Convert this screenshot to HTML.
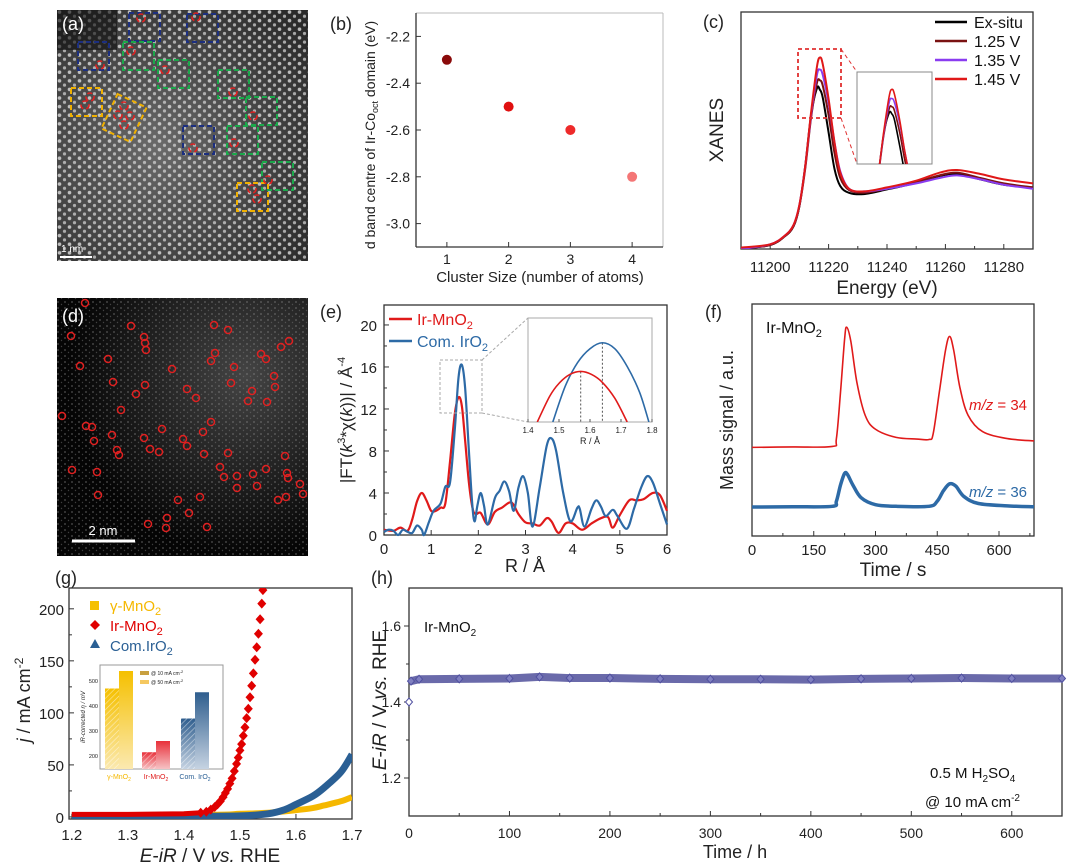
<!DOCTYPE html>
<html><head><meta charset="utf-8"><style>
html,body{margin:0;padding:0;background:#fff;}
svg{display:block;font-family:"Liberation Sans",Arial,sans-serif;}
</style></head><body>
<svg id="fig" width="1080" height="868" viewBox="0 0 1080 868" xmlns="http://www.w3.org/2000/svg">
<defs>
<pattern id="lat" x="57" y="10" width="10" height="8.6" patternUnits="userSpaceOnUse">
<circle cx="2.5" cy="2" r="1.8" fill="#e8e8e8"/><circle cx="7.5" cy="6.3" r="1.6" fill="#d0d0d0"/>
</pattern>
<pattern id="noise" x="0" y="0" width="7" height="6" patternUnits="userSpaceOnUse">
<circle cx="2" cy="2" r="0.9" fill="#9a9a9a"/><circle cx="5.5" cy="4.5" r="0.7" fill="#777"/>
</pattern>
<radialGradient id="glowD" cx="0.75" cy="0.3" r="0.7"><stop offset="0" stop-color="#444" stop-opacity="1"/><stop offset="1" stop-color="#050505" stop-opacity="1"/></radialGradient>
<radialGradient id="glowA" cx="0.4" cy="0.55" r="0.75"><stop offset="0" stop-color="#6a6a6a"/><stop offset="1" stop-color="#2a2a2a"/></radialGradient>
<linearGradient id="gy" x1="0" y1="0" x2="0" y2="1"><stop offset="0" stop-color="#f5c000"/><stop offset="1" stop-color="#fbe9b0"/></linearGradient>
<linearGradient id="gr" x1="0" y1="0" x2="0" y2="1"><stop offset="0" stop-color="#e8303a"/><stop offset="1" stop-color="#f6c2c4"/></linearGradient>
<linearGradient id="gb" x1="0" y1="0" x2="0" y2="1"><stop offset="0" stop-color="#2f5e8e"/><stop offset="1" stop-color="#c6d3e2"/></linearGradient>
<pattern id="hatch" width="4" height="4" patternUnits="userSpaceOnUse" patternTransform="rotate(45)"><line x1="0" y1="0" x2="0" y2="4" stroke="#fff" stroke-width="1.2" stroke-opacity="0.6"/></pattern>
<clipPath id="clipC"><rect x="741" y="12" width="292" height="237"/></clipPath>
<clipPath id="clipCi"><rect x="857" y="72" width="75" height="92"/></clipPath>
<clipPath id="clipEi"><rect x="528" y="318" width="124" height="104"/></clipPath>
<clipPath id="clipG"><rect x="69" y="588" width="283" height="231"/></clipPath>
</defs>

<g>
<rect x="57" y="10" width="251" height="251" fill="url(#glowA)"/>
<rect x="57" y="10" width="251" height="251" fill="url(#lat)" opacity="0.75"/>
<rect x="57" y="10" width="60" height="40" fill="#111" opacity="0.6"/>
<text x="62" y="30" font-size="18" fill="#fff">(a)</text>
<line x1="60" y1="257" x2="92" y2="257" stroke="#fff" stroke-width="2"/>
<text x="61" y="252" font-size="10" fill="#fff">1 nm</text>
<g id="aboxes" fill="none" stroke-width="2" stroke-dasharray="5,3"></g>
</g>

<g>
<rect x="57" y="298" width="251" height="258" fill="url(#glowD)"/>
<rect x="57" y="298" width="251" height="258" fill="url(#noise)" opacity="0.5"/>
<text x="62" y="322" font-size="18" fill="#fff">(d)</text>
<line x1="72" y1="541" x2="135" y2="541" stroke="#fff" stroke-width="3"/>
<text x="103" y="535" font-size="13" fill="#fff" text-anchor="middle">2 nm</text>
<g id="dcircles" fill="none" stroke="#e02020" stroke-width="1.5"></g>
</g>

<g id="plots"></g>
</svg>
<script>
// ===== data =====
// (b)
const bClusters=[1,2,3,4];
const bDband=[-2.3,-2.5,-2.6,-2.8];
const bColors=['#8a0a0a','#e01010','#ee2a2a','#f47676'];
const bYTicks=[-2.2,-2.4,-2.6,-2.8,-3.0];
const bXTicks=[1,2,3,4];
// (c)
const cEnergy=[11190,11200,11205,11208,11210,11212,11214,11216,11217,11218,11220,11222,11224,11227,11232,11240,11250,11258,11264,11272,11280,11290];
const cExsitu=[0,0.03,0.095,0.17,0.32,0.62,1.0,1.2,1.19,1.13,0.87,0.6,0.47,0.42,0.41,0.445,0.495,0.545,0.56,0.52,0.48,0.46];
const c125=[0,0.03,0.095,0.17,0.32,0.6,0.98,1.24,1.26,1.22,1.0,0.72,0.53,0.44,0.42,0.45,0.5,0.55,0.57,0.53,0.49,0.46];
const c135=[0,0.035,0.1,0.18,0.33,0.62,1.0,1.3,1.34,1.3,1.09,0.8,0.58,0.45,0.43,0.45,0.49,0.53,0.55,0.52,0.48,0.45];
const c145=[0.01,0.035,0.1,0.18,0.33,0.62,1.02,1.36,1.43,1.38,1.12,0.8,0.57,0.45,0.43,0.46,0.51,0.57,0.59,0.56,0.52,0.49];
const cXTicks=[11200,11220,11240,11260,11280];
const cNames=['Ex-situ','1.25 V','1.35 V','1.45 V'];
const cCols=['#000000','#7a1212','#8a3cf0','#e01818'];
// (e)
const eRblue=[0,0.1,0.2,0.3,0.4,0.5,0.6,0.7,0.8,0.85,0.95,1.05,1.2,1.3,1.4,1.5,1.58,1.65,1.72,1.8,1.87,1.92,1.98,2.05,2.12,2.2,2.35,2.45,2.55,2.65,2.75,2.85,2.95,3.05,3.15,3.3,3.45,3.55,3.65,3.8,3.95,4.1,4.15,4.25,4.4,4.5,4.6,4.7,4.85,4.95,5.15,5.3,5.45,5.58,5.7,5.85,6];
const eBlue=[0.3,0.5,0.4,0,0.5,0.3,0.2,0.9,0.5,0,1.2,2.3,3,4.6,5,10,15,16.2,14,8,3,1.3,2.8,4,2.8,1,3.5,4.2,5.1,4.2,2.3,4.5,5.6,4,0.8,4.5,8.5,9.2,8,4,1.3,2.6,2.5,0.8,2.5,3.3,2.7,1.8,2.4,1.8,0.6,2.5,4.5,5.6,5,3,1];
const eRred=[0,0.2,0.35,0.5,0.6,0.7,0.8,0.9,1.0,1.1,1.2,1.3,1.4,1.5,1.58,1.65,1.72,1.8,1.88,1.95,2.05,2.2,2.35,2.5,2.7,2.85,3.0,3.15,3.3,3.45,3.55,3.7,3.85,4.0,4.2,4.4,4.6,4.75,4.85,5.0,5.2,5.35,5.5,5.7,5.85,6];
const eRed=[0.5,0.4,0.7,0.4,1.5,3.2,4,3.3,2.3,2.3,2.6,3,7,11.5,13.1,12.3,9,5,2.5,2,2.1,1,2.2,2.6,3.1,2,1.2,1.1,0.9,1.6,1.3,0.2,1.1,1.1,0.5,1.1,1.6,1.7,0.7,1.9,3.3,3.3,3.4,4,3.8,2.3];
const eYTicks=[0,4,8,12,16,20];
const eXTicks=[0,1,2,3,4,5,6];
const eiRblue=[1.48,1.52,1.56,1.6,1.64,1.68,1.72,1.76,1.79];
const eiBlue=[0,3.6,6.0,7.4,8,7.4,5.6,3.0,0];
const eiRred=[1.43,1.47,1.5,1.535,1.57,1.605,1.64,1.68,1.72];
const eiRedV=[0,2.6,3.9,4.8,5.1,4.8,4.0,2.4,0];
const eiXTicks=[1.4,1.5,1.6,1.7,1.8];
// (f)
const fTime=[0,100,195,205,215,225,230,240,255,275,300,350,400,430,440,455,470,480,490,505,525,560,620,685];
const fO34=[38.2,38.4,38.6,42,62,85,90,84,66,52,46,42.5,41.8,41.6,44,62,80,86,80,64,52,45,42,41];
const fTime36=[0,100,195,205,215,225,232,245,265,300,350,430,450,465,480,495,515,550,620,685];
const fO36=[12.5,12.6,12.8,15,22,27,26.5,22,16.5,13.5,12.8,12.8,15,19.5,22.5,21.5,17,14,13,12.6];
const fXTicks=[0,150,300,450,600];
// (g)
const gVir=[1.2,1.3,1.4,1.43,1.44,1.448,1.455,1.46,1.465,1.47,1.474,1.478,1.482,1.486,1.49,1.494,1.497,1.5,1.503,1.506,1.509,1.512,1.515,1.518,1.521,1.524,1.527,1.53,1.533,1.536,1.539,1.541];
const gJir=[2.5,2.5,3,4,5,7,9.5,12,15,19,23,27,32,37,44,51,57,64,70,78,86,95,104,115,126,138,151,163,176,190,205,218];
const gVblue=[1.2,1.4,1.5,1.55,1.58,1.6,1.63,1.65,1.68,1.7];
const gJblue=[0.5,0.6,1,3,7,12,20,28,43,60];
const gVy=[1.2,1.45,1.5,1.55,1.6,1.63,1.65,1.68,1.7];
const gJy=[1.5,2,3,4,6.5,8.5,11,15,19];
const gXTicks=[1.2,1.3,1.4,1.5,1.6,1.7];
const gYTicks=[0,50,100,150,200];
const gBarCats=['γ-MnO2','Ir-MnO2','Com. IrO2'];
const gBar10=[470,215,350];
const gBar50=[540,260,455];
const gInYTicks=[200,300,400,500];
// (h)
const hTime=[0,2,10,50,100,130,160,200,250,300,350,400,450,500,550,600,650];
const hPot=[1.40,1.455,1.46,1.461,1.462,1.466,1.463,1.463,1.461,1.460,1.460,1.459,1.461,1.462,1.463,1.462,1.462];
const hXTicks=[0,100,200,300,400,500,600];
const hYTicks=[1.2,1.4,1.6];

// ===== helpers =====
const NS='http://www.w3.org/2000/svg';
const root=document.getElementById('plots');
function mk(tag,attrs,parent){const e=document.createElementNS(NS,tag);for(const k in attrs)e.setAttribute(k,attrs[k]);(parent||root).appendChild(e);return e;}
function lin(d0,d1,r0,r1){return v=>r0+(v-d0)/(d1-d0)*(r1-r0);}
function txt(x,y,s,size,parent,extra){const t=mk('text',Object.assign({x:x,y:y,'font-size':size,fill:'#222'},extra||{}),parent);t.innerHTML=s;return t;}
function smoothPath(pts){let d='M'+pts[0][0]+','+pts[0][1];for(let i=0;i<pts.length-1;i++){const p0=pts[i-1]||pts[i],p1=pts[i],p2=pts[i+1],p3=pts[i+2]||p2;const c1x=p1[0]+(p2[0]-p0[0])/6,c1y=p1[1]+(p2[1]-p0[1])/6,c2x=p2[0]-(p3[0]-p1[0])/6,c2y=p2[1]-(p3[1]-p1[1])/6;d+=' C'+c1x+','+c1y+' '+c2x+','+c2y+' '+p2[0]+','+p2[1];}return d;}
function frame(x0,y0,x1,y1,g){mk('rect',{x:x0,y:y0,width:x1-x0,height:y1-y0,fill:'none',stroke:'#333','stroke-width':1.3},g);}

// ===== (a) boxes & (d) circles =====
const ab=document.getElementById('aboxes');
[[129,13,'#1c2f80'],[187,14,'#1c2f80'],[78,42,'#1c2f80'],[183,126,'#1c2f80'],[123,42,'#1aa84a'],[158,60,'#1aa84a'],[218,70,'#1aa84a'],[246,97,'#1aa84a'],[227,126,'#1aa84a'],[262,162,'#1aa84a'],[71,88,'#f0b000'],[237,183,'#f0b000']].forEach(b=>{mk('rect',{x:b[0],y:b[1],width:31,height:28,stroke:b[2]},ab);});
mk('rect',{x:108,y:99,width:32,height:38,stroke:'#f0b000',transform:'rotate(25 124 118)'},ab);
[[141,18],[196,17],[100,65],[131,51],[165,70],[233,92],[253,116],[193,148],[234,143],[268,180],[90,97],[85,105],[124,106],[118,115],[130,116],[124,125],[252,189],[257,199]].forEach(c=>{mk('circle',{cx:c[0],cy:c[1],r:4,stroke:'#e02020','stroke-width':1.6},ab);});
const dc=document.getElementById('dcircles');
[[85,303],[71,336],[131,326],[144,337],[145,343],[80,366],[108,359],[146,350],[113,382],[136,394],[145,385],[172,369],[187,389],[196,398],[214,325],[215,353],[211,361],[228,330],[231,383],[234,367],[261,354],[266,359],[281,347],[289,341],[274,376],[275,387],[267,402],[248,401],[252,391],[86,426],[92,427],[94,441],[121,410],[112,435],[117,450],[119,455],[144,438],[150,449],[162,429],[159,452],[183,439],[187,446],[203,432],[211,422],[204,454],[220,467],[224,477],[228,453],[237,476],[253,474],[257,486],[266,469],[285,456],[288,478],[287,473],[237,488],[278,500],[286,497],[303,494],[300,484],[178,500],[200,497],[167,518],[166,528],[189,513],[207,527],[148,524],[97,472],[62,416],[72,470],[98,495]].forEach(c=>{mk('circle',{cx:c[0],cy:c[1],r:3.5},dc);});

// ===== (b) =====
(function(){const g=mk('g',{});
const X=lin(0.5,4.5,416,663),Y=lin(-3.1,-2.1,247,13);
txt(330,30,'(b)',18,g);
mk('line',{x1:416,y1:13,x2:663,y2:13,stroke:'#bbb'},g);mk('line',{x1:663,y1:13,x2:663,y2:247,stroke:'#bbb'},g);
mk('line',{x1:416,y1:13,x2:416,y2:247,stroke:'#333','stroke-width':1.3},g);mk('line',{x1:416,y1:247,x2:663,y2:247,stroke:'#333','stroke-width':1.3},g);
bYTicks.forEach(v=>{mk('line',{x1:416,y1:Y(v),x2:421,y2:Y(v),stroke:'#333'},g);txt(410,Y(v)+5,v.toFixed(1),14,g,{'text-anchor':'end'});});
bXTicks.forEach(v=>{mk('line',{x1:X(v),y1:247,x2:X(v),y2:242,stroke:'#333'},g);txt(X(v),264,String(v),14,g,{'text-anchor':'middle'});});
const yt=txt(0,0,'d band centre of Ir-Co<tspan font-size="9" dy="3">oct</tspan><tspan dy="-3"> domain (eV)</tspan>',14,g,{'text-anchor':'middle',transform:'translate(375,135) rotate(-90)'});

const xt=txt(540,282,'Cluster Size (number of atoms)',15,g,{'text-anchor':'middle'});

bClusters.forEach((c,i)=>{const p=mk('circle',{cx:X(c),cy:Y(bDband[i]),r:5,fill:bColors[i]},g);

});
})();

// ===== (c) =====
(function(){const g=mk('g',{});
const X=lin(11190,11290,741,1033),Y=lin(0,1.77,249,12);
txt(703,28,'(c)',18,g);
frame(741,12,1033,249,g);
cXTicks.forEach(v=>{mk('line',{x1:X(v),y1:249,x2:X(v),y2:244,stroke:'#333'},g);txt(X(v),272,String(v),15,g,{'text-anchor':'middle'});});
[11210,11230,11250,11270].forEach(v=>mk('line',{x1:X(v),y1:249,x2:X(v),y2:246,stroke:'#333'},g));
txt(0,0,'XANES',19,g,{'text-anchor':'middle',transform:'translate(723,130) rotate(-90)',});
txt(887,294,'Energy (eV)',19,g,{'text-anchor':'middle',});
const cg=mk('g',{'clip-path':'url(#clipC)'},g);
[cExsitu,c125,c135,c145].forEach((s,k)=>{const p=mk('path',{d:smoothPath(cEnergy.map((e,i)=>[X(e),Y(s[i])])),fill:'none',stroke:cCols[k],'stroke-width':2},cg);

});
mk('rect',{x:798,y:49,width:43,height:69,fill:'none',stroke:'#e03030','stroke-width':1.8,'stroke-dasharray':'4,3'},g);
mk('line',{x1:841,y1:49,x2:857,y2:72,stroke:'#e03030','stroke-dasharray':'4,3'},g);
mk('line',{x1:841,y1:118,x2:857,y2:164,stroke:'#e03030','stroke-dasharray':'4,3'},g);
mk('rect',{x:857,y:72,width:75,height:92,fill:'#fff',stroke:'#888'},g);
const XI=lin(11204,11232,857,932),YI=lin(0.7,1.6,164,72);
const ig=mk('g',{'clip-path':'url(#clipCi)'},g);
[cExsitu,c125,c135,c145].forEach((s,k)=>{const p=mk('path',{d:smoothPath(cEnergy.map((e,i)=>[XI(e),YI(s[i])])),fill:'none',stroke:cCols[k],'stroke-width':1.6},ig);

});
cNames.forEach((n,i)=>{const y=22+i*19;const le=mk('g',{},g);


mk('line',{x1:935,y1:y,x2:967,y2:y,stroke:cCols[i],'stroke-width':2.5},le);txt(974,y+6,n,16,le,{fill:'#111'});});
})();

// ===== (e) =====
(function(){const g=mk('g',{});
const X=lin(0,6,384,667),Y=lin(0,21.9,535,305);
txt(320,318,'(e)',18,g);
frame(384,305,667,535,g);
eYTicks.forEach(v=>{mk('line',{x1:384,y1:Y(v),x2:389,y2:Y(v),stroke:'#333'},g);txt(377,Y(v)+6,String(v),15,g,{'text-anchor':'end'});});
[2,6,10,14,18].forEach(v=>mk('line',{x1:384,y1:Y(v),x2:387,y2:Y(v),stroke:'#333'},g));
eXTicks.forEach(v=>{mk('line',{x1:X(v),y1:535,x2:X(v),y2:530,stroke:'#333'},g);txt(X(v),554,String(v),15,g,{'text-anchor':'middle'});});
txt(0,0,'|FT(<tspan font-style="italic">k</tspan><tspan font-size="11" dy="-7">3</tspan><tspan dy="7">*χ(</tspan><tspan font-style="italic">k</tspan>))| / Å<tspan font-size="11" dy="-7">-4</tspan>',17,g,{'text-anchor':'middle',transform:'translate(352,420) rotate(-90)',});
txt(525,572,'R / Å',18,g,{'text-anchor':'middle',});
const r=mk('path',{d:smoothPath(eRred.map((q,i)=>[X(q),Y(eRed[i])])),fill:'none',stroke:'#e01a1a','stroke-width':2.2},g);

const b=mk('path',{d:smoothPath(eRblue.map((r,i)=>[X(r),Y(eBlue[i])])),fill:'none',stroke:'#2d6aa6','stroke-width':2.2},g);

mk('line',{x1:389,y1:319,x2:412,y2:319,stroke:'#e01a1a','stroke-width':2.5},g);txt(417,325,'Ir-MnO<tspan font-size="11" dy="4">2</tspan>',16,g,{fill:'#e01a1a'});
mk('line',{x1:389,y1:341,x2:412,y2:341,stroke:'#2d6aa6','stroke-width':2.5},g);txt(417,347,'Com. IrO<tspan font-size="11" dy="4">2</tspan>',16,g,{fill:'#2d6aa6'});
mk('rect',{x:440,y:360,width:42,height:53,fill:'none',stroke:'#aaa','stroke-dasharray':'3,2'},g);
mk('line',{x1:482,y1:360,x2:528,y2:318,stroke:'#aaa','stroke-dasharray':'3,2'},g);
mk('line',{x1:482,y1:413,x2:528,y2:422,stroke:'#aaa','stroke-dasharray':'3,2'},g);
mk('rect',{x:528,y:318,width:124,height:104,fill:'#fff',stroke:'#aaa'},g);
const XI=lin(1.4,1.8,528,652),YI=lin(0,10.5,422,318);
eiXTicks.forEach(v=>{txt(XI(v),433,v.toFixed(1),8,g,{'text-anchor':'middle'});mk('line',{x1:XI(v),y1:422,x2:XI(v),y2:419,stroke:'#555'},g);});
txt(590,444,'R / Å',9,g,{'text-anchor':'middle'});
const ig=mk('g',{'clip-path':'url(#clipEi)'},g);
mk('line',{x1:XI(1.57),y1:YI(5.1),x2:XI(1.57),y2:422,stroke:'#555','stroke-dasharray':'2,2'},ig);
mk('line',{x1:XI(1.64),y1:YI(8),x2:XI(1.64),y2:422,stroke:'#555','stroke-dasharray':'2,2'},ig);
mk('path',{d:smoothPath(eiRblue.map((q,i)=>[XI(q),YI(eiBlue[i])])),fill:'none',stroke:'#2d6aa6','stroke-width':1.6},ig);
mk('path',{d:smoothPath(eiRred.map((q,i)=>[XI(q),YI(eiRedV[i])])),fill:'none',stroke:'#e01a1a','stroke-width':1.6},ig);
})();

// ===== (f) =====
(function(){const g=mk('g',{});
const X=lin(0,685,752,1034),Y=lin(0,100,536,304);
txt(705,318,'(f)',18,g);
frame(752,304,1034,536,g);
fXTicks.forEach(v=>{mk('line',{x1:X(v),y1:536,x2:X(v),y2:531,stroke:'#333'},g);txt(X(v),555,String(v),15,g,{'text-anchor':'middle'});});
[75,225,375,525,675].forEach(v=>mk('line',{x1:X(v),y1:536,x2:X(v),y2:533,stroke:'#333'},g));
txt(0,0,'Mass signal / a.u.',18,g,{'text-anchor':'middle',transform:'translate(733,420) rotate(-90)',});
txt(893,576,'Time / s',19,g,{'text-anchor':'middle',});
txt(766,333,'Ir-MnO<tspan font-size="11" dy="4">2</tspan>',16,g,{fill:'#111'});
const r=mk('path',{d:smoothPath(fTime.map((t,i)=>[X(t),Y(fO34[i])])),fill:'none',stroke:'#e01a1a','stroke-width':1.6},g);

const b=mk('path',{d:smoothPath(fTime36.map((t,i)=>[X(t),Y(fO36[i])])),fill:'none',stroke:'#2d6aa6','stroke-width':3.5},g);

txt(1027,410,'<tspan font-style="italic">m/z</tspan> = 34',15,g,{fill:'#e01a1a','text-anchor':'end'});
txt(1027,497,'<tspan font-style="italic">m/z</tspan> = 36',15,g,{fill:'#2d6aa6','text-anchor':'end'});
})();

// ===== (g) =====
(function(){const g=mk('g',{});
const X=lin(1.195,1.7,69,352),Y=lin(-2,220,819,588);
txt(55,584,'(g)',18,g);
frame(69,588,352,819,g);
gXTicks.forEach(v=>{mk('line',{x1:X(v),y1:819,x2:X(v),y2:814,stroke:'#333'},g);txt(X(v),840,v.toFixed(1),15,g,{'text-anchor':'middle'});});
gYTicks.forEach(v=>{mk('line',{x1:69,y1:Y(v),x2:74,y2:Y(v),stroke:'#333'},g);txt(64,Y(v)+6,String(v),15,g,{'text-anchor':'end'});});
[25,75,125,175].forEach(v=>mk('line',{x1:69,y1:Y(v),x2:72,y2:Y(v),stroke:'#333'},g));
txt(0,0,'<tspan font-style="italic">j</tspan> / mA cm<tspan font-size="12" dy="-7">-2</tspan>',18,g,{'text-anchor':'middle',transform:'translate(30,700) rotate(-90)',});
txt(210,862,'<tspan font-style="italic">E</tspan>-<tspan font-style="italic">iR</tspan> / V <tspan font-style="italic">vs.</tspan> RHE',19,g,{'text-anchor':'middle',});
const cg=mk('g',{'clip-path':'url(#clipG)'},g);
const ly=mk('path',{d:smoothPath(gVy.map((v,i)=>[X(v),Y(gJy[i])])),fill:'none',stroke:'#f5b800','stroke-width':6},cg);

const lb=mk('path',{d:smoothPath(gVblue.map((v,i)=>[X(v),Y(gJblue[i])])),fill:'none',stroke:'#2a5f94','stroke-width':7},cg);

mk('polyline',{points:gVir.slice(0,4).map((v,i)=>X(v)+','+Y(gJir[i])).join(' '),fill:'none',stroke:'#e00000','stroke-width':5},cg);
gVir.slice(3).forEach((v,j)=>{const i=j+3;const x=X(v),y=Y(gJir[i]);const d=mk('path',{d:`M${x},${y-5}L${x+4.5},${y}L${x},${y+5}L${x-4.5},${y}Z`,fill:'#e00000'},cg);

});
mk('rect',{x:90,y:601,width:9,height:9,fill:'#f5c000'},g);txt(110,611,'γ-MnO<tspan font-size="11" dy="4">2</tspan>',15,g,{fill:'#f5b800'});
mk('path',{d:'M95,620 l5,5 l-5,5 l-5,-5Z',fill:'#e00000'},g);txt(110,631,'Ir-MnO<tspan font-size="11" dy="4">2</tspan>',15,g,{fill:'#e00000'});
mk('path',{d:'M95,639 l5,9 l-10,0Z',fill:'#2a5f94'},g);txt(110,651,'Com.IrO<tspan font-size="11" dy="4">2</tspan>',15,g,{fill:'#2a5f94'});
const ig=mk('g',{},g);
mk('rect',{x:100,y:665,width:123,height:104,fill:'#fff',stroke:'#999'},ig);
const YI=lin(148,564,769,665);
gInYTicks.forEach(v=>{txt(98,YI(v)+2,String(v),5.5,ig,{'text-anchor':'end'});});
txt(0,0,'iR-corrected η / mV',6,ig,{'text-anchor':'middle',transform:'translate(85,717) rotate(-90)','font-style':'italic'});
const grads=['url(#gy)','url(#gr)','url(#gb)'];const cols=['#f5b800','#e01a1a','#2a5f94'];
const bx=[105,142,181],bw=14;
gBarCats.forEach((c,i)=>{
const r1=mk('rect',{x:bx[i],y:YI(gBar10[i]),width:bw,height:769-YI(gBar10[i]),fill:grads[i]},ig);

mk('rect',{x:bx[i],y:YI(gBar10[i]),width:bw,height:769-YI(gBar10[i]),fill:'url(#hatch)'},ig);
const r2=mk('rect',{x:bx[i]+bw,y:YI(gBar50[i]),width:bw,height:769-YI(gBar50[i]),fill:grads[i]},ig);

txt(bx[i]+bw,779,c.replace('2','<tspan font-size="5" dy="2">2</tspan>'),7,g,{'text-anchor':'middle',fill:cols[i]});});
mk('rect',{x:140,y:671,width:9,height:4,fill:'#c8a040'},ig);txt(151,675,'@ 10 mA cm<tspan font-size="4" dy="-2">-2</tspan>',5,ig);
mk('rect',{x:140,y:680,width:9,height:4,fill:'#f5c860'},ig);txt(151,684,'@ 50 mA cm<tspan font-size="4" dy="-2">-2</tspan>',5,ig);
})();

// ===== (h) =====
(function(){const g=mk('g',{});
const X=lin(0,650,409,1062),Y=lin(1.1,1.7,816,588);
txt(371,584,'(h)',18,g);
frame(409,588,1062,816,g);
hXTicks.forEach(v=>{mk('line',{x1:X(v),y1:816,x2:X(v),y2:811,stroke:'#333'},g);txt(X(v),838,String(v),14,g,{'text-anchor':'middle'});});
[50,150,250,350,450,550,650].forEach(v=>mk('line',{x1:X(v),y1:816,x2:X(v),y2:813,stroke:'#333'},g));
hYTicks.forEach(v=>{mk('line',{x1:409,y1:Y(v),x2:404,y2:Y(v),stroke:'#333'},g);txt(401,Y(v)+5,v.toFixed(1),14,g,{'text-anchor':'end'});});
[1.3,1.5].forEach(v=>mk('line',{x1:409,y1:Y(v),x2:406,y2:Y(v),stroke:'#333'},g));
txt(0,0,'<tspan font-style="italic">E</tspan>-<tspan font-style="italic">iR</tspan> / V <tspan font-style="italic">vs.</tspan> RHE',19,g,{'text-anchor':'middle',transform:'translate(386,700) rotate(-90)',});
txt(735,858,'Time / h',18,g,{'text-anchor':'middle',});
txt(424,632,'Ir-MnO<tspan font-size="10" dy="4">2</tspan>',15,g,{fill:'#111'});
txt(930,778,'0.5 M H<tspan font-size="10" dy="4">2</tspan><tspan dy="-4">SO</tspan><tspan font-size="10" dy="4">4</tspan>',15,g,{fill:'#111'});
txt(925,807,'@ 10 mA cm<tspan font-size="10" dy="-6">-2</tspan>',15,g,{fill:'#111'});
const band=mk('polyline',{points:hTime.slice(1).map((t,i)=>X(t)+','+Y(hPot[i+1])).join(' '),fill:'none',stroke:'#6a6aaa','stroke-width':8},g);

hTime.forEach((t,i)=>{const x=X(t),y=Y(hPot[i]);const d=mk('path',{d:`M${x},${y-4}L${x+3.5},${y}L${x},${y+4}L${x-3.5},${y}Z`,fill:i===0?'#fff':'#8080c0',stroke:'#5050a0','stroke-width':1},g);

});
})();
</script>
</body></html>
